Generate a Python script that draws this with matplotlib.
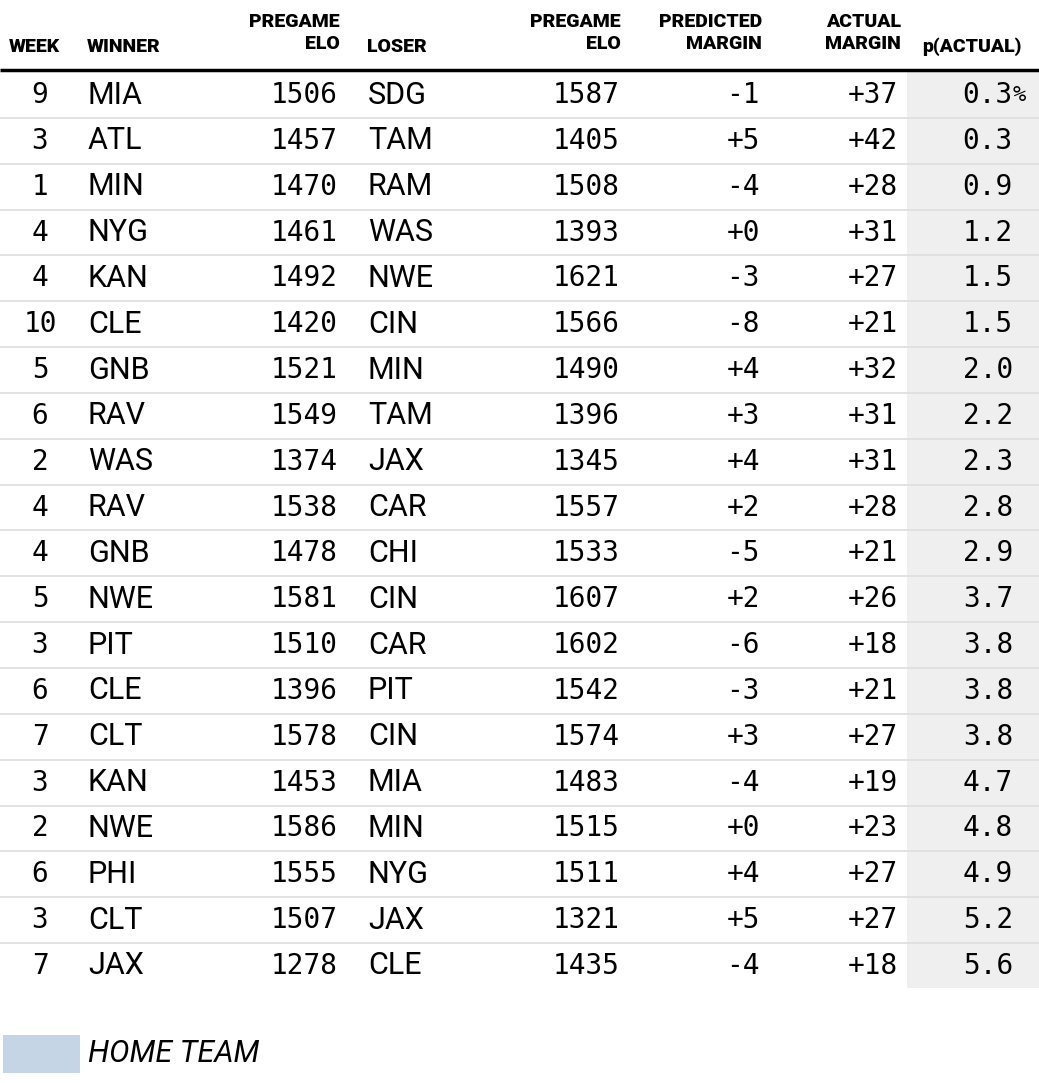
import matplotlib
matplotlib.use("Agg")
import matplotlib.pyplot as plt
from matplotlib.patches import Rectangle

weeks = [9, 3, 1, 4, 4, 10, 5, 6, 2, 4, 4, 5, 3, 6, 7, 3, 2, 6, 3, 7]
winners = ["MIA","ATL","MIN","NYG","KAN","CLE","GNB","RAV","WAS","RAV","GNB","NWE","PIT","CLE","CLT","KAN","NWE","PHI","CLT","JAX"]
winner_elo = [1506,1457,1470,1461,1492,1420,1521,1549,1374,1538,1478,1581,1510,1396,1578,1453,1586,1555,1507,1278]
losers = ["SDG","TAM","RAM","WAS","NWE","CIN","MIN","TAM","JAX","CAR","CHI","CIN","CAR","PIT","CIN","MIA","MIN","NYG","JAX","CLE"]
loser_elo = [1587,1405,1508,1393,1621,1566,1490,1396,1345,1557,1533,1607,1602,1542,1574,1483,1515,1511,1321,1435]
pred_margin = ["-1","+5","-4","+0","-3","-8","+4","+3","+4","+2","-5","+2","-6","-3","+3","-4","+0","+4","+5","-4"]
actual_margin = ["+37","+42","+28","+31","+27","+21","+32","+31","+31","+28","+21","+26","+18","+21","+27","+19","+23","+27","+27","+18"]
p_actual = ["0.3","0.3","0.9","1.2","1.5","1.5","2.0","2.2","2.3","2.8","2.9","3.7","3.8","3.8","3.8","4.7","4.8","4.9","5.2","5.6"]

W, H = 1039, 1083
fig = plt.figure(figsize=(W/100, H/100), dpi=100)
ax = fig.add_axes([0, 0, 1, 1])
ax.set_xlim(0, W); ax.set_ylim(H, 0); ax.axis("off")

hf = dict(family="Roboto", weight="black", fontsize=14, color="black")
ax.text(9, 47, "WEEK", ha="left", va="center", **hf)
ax.text(87, 47, "WINNER", ha="left", va="center", **hf)
ax.text(340, 33, "PREGAME\nELO", ha="right", va="center", linespacing=1.25, multialignment="right", **hf)
ax.text(367, 47, "LOSER", ha="left", va="center", **hf)
ax.text(621, 33, "PREGAME\nELO", ha="right", va="center", linespacing=1.25, multialignment="right", **hf)
ax.text(762, 33, "PREDICTED\nMARGIN", ha="right", va="center", linespacing=1.25, multialignment="right", **hf)
ax.text(901, 33, "ACTUAL\nMARGIN", ha="right", va="center", linespacing=1.25, multialignment="right", **hf)
ax.text(972, 47, "p(ACTUAL)", ha="center", va="center", **hf)

ax.plot([0, W], [70, 70], color="black", lw=2.5, solid_capstyle="butt")

y0, dy = 95, 45.84
n = len(weeks)
ax.add_patch(Rectangle((907, 72), W-907, y0 + dy*(n-1) + 22 - 72, color="#efefef", lw=0, zorder=0))

tf = dict(family="Roboto", fontsize=22, color="black", va="center")
nf = dict(family="DejaVu Sans Mono", fontsize=20, color="black", va="center")
for i in range(n):
    y = y0 + dy*i
    ax.text(40, y, str(weeks[i]), ha="center", **nf)
    ax.text(88, y, winners[i], ha="left", **tf)
    ax.text(338, y, str(winner_elo[i]), ha="right", **nf)
    ax.text(368, y, losers[i], ha="left", **tf)
    ax.text(620, y, str(loser_elo[i]), ha="right", **nf)
    ax.text(760, y, pred_margin[i], ha="right", **nf)
    ax.text(898, y, actual_margin[i], ha="right", **nf)
    ax.text(1013, y, p_actual[i], ha="right", **nf)
    if i == 0:
        ax.text(1013, y, "%", ha="left", family="DejaVu Sans Mono", fontsize=16, va="center")
    if i < n-1:
        ax.plot([0, W], [y + dy/2, y + dy/2], color="#dddddd", lw=1.2, zorder=1)

ax.add_patch(Rectangle((3, 1035), 77, 38, color="#c6d5e6", lw=0))
ax.text(88, 1054, "HOME TEAM", ha="left", va="center", family="Roboto", style="italic", fontsize=22)

fig.savefig("out.png", dpi=100)
